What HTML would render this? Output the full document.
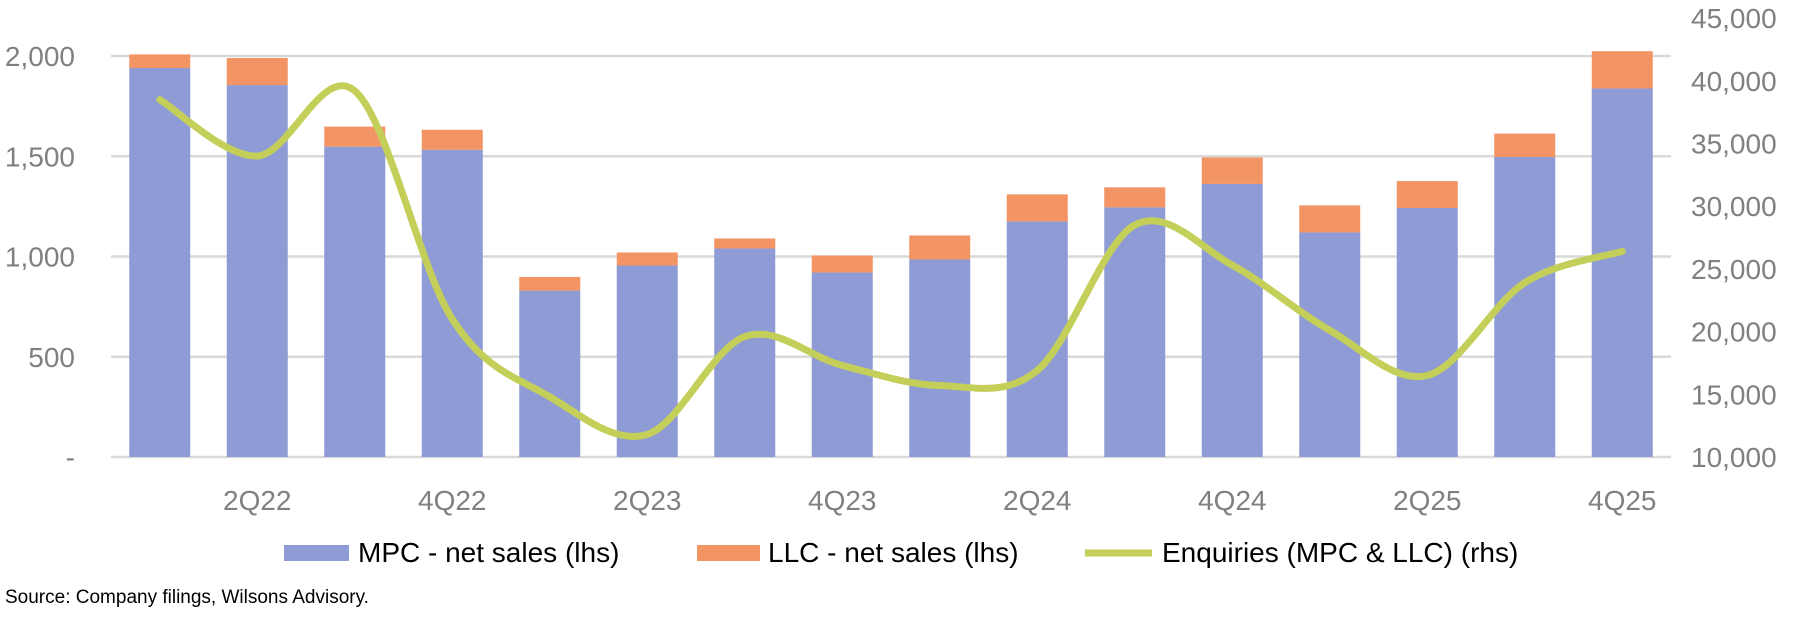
<!DOCTYPE html>
<html><head><meta charset="utf-8"><style>
body{margin:0;background:#fff;width:1800px;height:630px;overflow:hidden;font-family:"Liberation Sans",sans-serif}
</style></head><body>
<svg id="chart" width="1800" height="630" viewBox="0 0 1800 630" xmlns="http://www.w3.org/2000/svg"></svg>
<script>
const categories=["1Q22","2Q22","3Q22","4Q22","1Q23","2Q23","3Q23","4Q23","1Q24","2Q24","3Q24","4Q24","1Q25","2Q25","3Q25","4Q25"];
const mpcSales=[1940,1855,1548,1532,830,955,1040,920,985,1175,1245,1362,1120,1242,1496,1838];
const llcSales=[68,135,100,100,68,65,50,85,120,135,100,132,135,134,117,186];
const enquiries=[38500,34000,39200,21000,14800,11800,19600,17300,15700,16900,28500,25300,20100,16500,23900,26400];
const leftTicks=[0,500,1000,1500,2000];
const leftTickLabels=["-","500","1,000","1,500","2,000"];
const rightTicks=[10000,15000,20000,25000,30000,35000,40000,45000];
const rightTickLabels=["10,000","15,000","20,000","25,000","30,000","35,000","40,000","45,000"];

const NS="http://www.w3.org/2000/svg";
const svg=document.getElementById('chart');
const X0=111,X1=1671;
const yL=v=>457-v/2000*401;
const yR=v=>457-(v-10000)/5000*62.7;
const bw=(X1-X0)/categories.length;
const xc=i=>X0+bw*(i+0.5);
function mk(tag,attrs,parent){const e=document.createElementNS(NS,tag);for(const k in attrs)e.setAttribute(k,attrs[k]);(parent||svg).appendChild(e);return e;}

leftTicks.forEach((t,i)=>{
  const g=mk('line',{x1:X0,x2:X1,y1:yL(t),y2:yL(t),stroke:'#d9d9d9','stroke-width':2.5});
  
  
  const tx=mk('text',{x:75,y:yL(t)+10,'text-anchor':'end','font-size':28,fill:'#808080'});
  tx.textContent=leftTickLabels[i];
  
  
});
rightTicks.forEach((t,i)=>{
  const tx=mk('text',{x:1691,y:yR(t)+10,'font-size':28,fill:'#808080'});
  tx.textContent=rightTickLabels[i];
  
  
});
categories.forEach((c,i)=>{
  const w=61,x=xc(i)-w/2;
  const b=mk('rect',{x:x,y:yL(mpcSales[i]),width:w,height:yL(0)-yL(mpcSales[i]),fill:'#8e9bd5'});
  
  
  const o=mk('rect',{x:x,y:yL(mpcSales[i]+llcSales[i]),width:w,height:yL(mpcSales[i])-yL(mpcSales[i]+llcSales[i]),fill:'#f39465'});
  
  
  if(i%2===1){
    const tx=mk('text',{x:xc(i),y:510,'text-anchor':'middle','font-size':28,fill:'#808080'});
    tx.textContent=c;
    
    
  }
});
const pts=enquiries.map((v,i)=>[xc(i),yR(v)]);
let d='M'+pts[0][0]+','+pts[0][1];
for(let i=0;i<pts.length-1;i++){
  const p0=pts[Math.max(0,i-1)],p1=pts[i],p2=pts[i+1],p3=pts[Math.min(pts.length-1,i+2)];
  const t=6;
  d+=' C'+(p1[0]+(p2[0]-p0[0])/t)+','+(p1[1]+(p2[1]-p0[1])/t)+' '+(p2[0]-(p3[0]-p1[0])/t)+','+(p2[1]-(p3[1]-p1[1])/t)+' '+p2[0]+','+p2[1];
}
const line=mk('path',{d:d,fill:'none',stroke:'#c4cf5a','stroke-width':7,'stroke-linecap':'round'});



function legend(name,swatch,label,tx){
  const g=mk('g',{});
  
  
  swatch(g);
  const t=mk('text',{x:tx,y:562,'font-size':28,fill:'#000'},g);t.textContent=label;
}
legend('legend-mpc',g=>mk('rect',{x:284,y:545,width:65,height:16,fill:'#8e9bd5'},g),'MPC - net sales (lhs)',358);
legend('legend-llc',g=>mk('rect',{x:697,y:545,width:63,height:16,fill:'#f39465'},g),'LLC - net sales (lhs)',768);
legend('legend-enquiries',g=>mk('line',{x1:1085,x2:1152,y1:553,y2:553,stroke:'#c4cf5a','stroke-width':7},g),'Enquiries (MPC & LLC) (rhs)',1162);
const src=mk('text',{x:5,y:603,'font-size':19,fill:'#000'});
src.textContent='Source: Company filings, Wilsons Advisory.';


</script>
</body></html>
